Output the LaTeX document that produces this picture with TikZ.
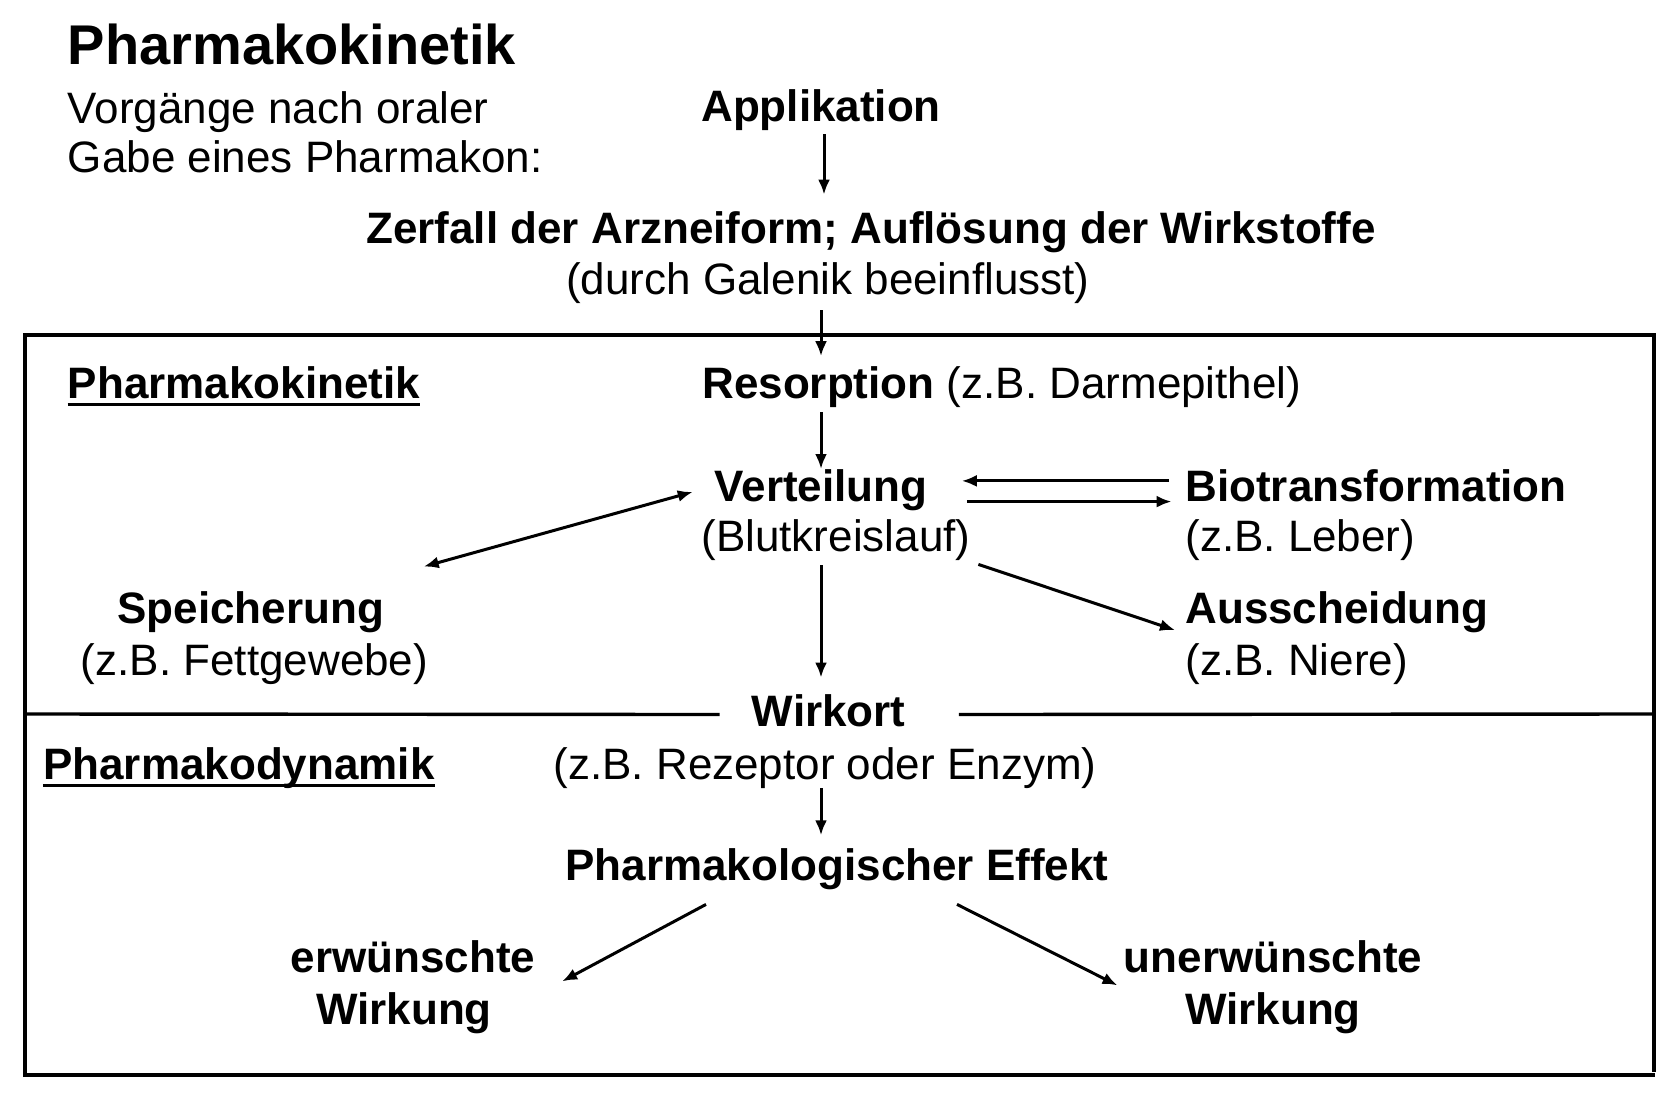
\documentclass[tikz,border=0pt]{standalone}
\usepackage{fontspec}
\setmainfont{Liberation Sans}
\usetikzlibrary{arrows.meta}
\begin{document}
\begin{tikzpicture}[x = 0.5pt, y = -0.5pt,
		txt/.style = {inner sep = 0pt, text height = 16pt, text depth = 4.5pt, font = \fontsize{22pt}{26pt}\selectfont},
		bold/.style = {txt, font = \fontsize{22pt}{26pt}\selectfont\bfseries},
		arr/.style = {line width = 1.5pt, -{Latex[length = 7.5pt, width = 6pt]}},
		arrboth/.style = {line width = 1.5pt, {Latex[length = 7.5pt, width = 6pt]}-{Latex[length = 7.5pt, width = 6pt]}},
		frame/.style = {line width = 1.7pt}]
	\useasboundingbox (0, 0) rectangle (1680, 1092);
	
	% Frame
	\draw[frame] (25, 1077) -- (25, 335) -- (1654, 335) -- (1654, 1072);
	\draw[line width = 2.3pt] (24, 1075) -- (1655, 1075);
	
	% Nodes
	\node[txt, anchor = base west, font = \fontsize{28pt}{32pt}\selectfont\bfseries] (title) at (67.5, 64) {Pharmakokinetik};
	\node[txt, anchor = base west] (intro1) at (67.5, 123) {Vorgänge nach oraler};
	\node[txt, anchor = base west] (intro2) at (67.5, 172.5) {Gabe eines Pharmakon:};
	\node[bold, anchor = base] (appl) at (821, 121) {Applikation};
	\node[bold, anchor = base] (zerf) at (871, 243) {Zerfall der Arzneiform; Auflösung der Wirkstoffe};
	\node[txt, anchor = base] (zerfsub) at (828, 294.6) {(durch Galenik beeinflusst)};
	\node[bold, anchor = base west] (kin) at (67.5, 398) {Pharmakokinetik};
	\node[txt, anchor = base west] (resorp) at (702, 398.6) {\textbf{Resorption} (z.B. Darmepithel)};
	\node[bold, anchor = base] (vert) at (821, 501.4) {Verteilung};
	\node[txt, anchor = base] (vertsub) at (836, 551.8) {(Blutkreislauf)};
	\node[bold, anchor = base west] (bio) at (1185, 501.4) {Biotransformation};
	\node[txt, anchor = base west] (biosub) at (1185, 551.8) {(z.B. Leber)};
	\node[bold, anchor = base] (speich) at (250.7, 623.6) {Speicherung};
	\node[txt, anchor = base] (speichsub) at (254.5, 675) {(z.B. Fettgewebe)};
	\node[bold, anchor = base west] (aus) at (1185, 623.6) {Ausscheidung};
	\node[txt, anchor = base west] (aussub) at (1185, 675) {(z.B. Niere)};
	\node[bold, anchor = base] (wirk) at (828.7, 726) {Wirkort};
	\node[txt, anchor = base] (wirksub) at (825, 779) {(z.B. Rezeptor oder Enzym)};
	\node[bold, anchor = base west] (dyn) at (42.9, 779) {Pharmakodynamik};
	\node[bold, anchor = base] (effekt) at (837, 880.7) {Pharmakologischer Effekt};
	\node[bold, anchor = base] (erw1) at (413, 972) {erwünschte};
	\node[bold, anchor = base] (erw2) at (404, 1024) {Wirkung};
	\node[bold, anchor = base] (unerw1) at (1273, 972) {unerwünschte};
	\node[bold, anchor = base] (unerw2) at (1273, 1024) {Wirkung};
	
	% Underlines and divider
	\draw[line width = 1.8pt] ([yshift = 1.5pt]kin.south west) -- ([yshift = 1.5pt]kin.south east);
	\draw[line width = 1.8pt] ([yshift = 1.5pt]dyn.south west) -- ([yshift = 1.5pt]dyn.south east);
	\draw[frame] (25, 714) -- ([xshift = -16pt]wirk.west);
	\draw[frame] ([xshift = 26.5pt]wirk.east) -- (1654, 714);
	
	% Edges
	\draw[arr, shorten <= 2pt, shorten >= 8pt] ([xshift = 1.5pt]appl.south) -- ([xshift = 1.5pt]appl.south |- zerf.north);
	\draw[arr, shorten <= 3.2pt, shorten >= 5pt] (vert.north |- zerfsub.south) -- (vert.north |- resorp.north);
	\draw[arr, shorten <= 2.2pt] (vert.north |- resorp.south) -- (vert.north);
	\draw[arr, shorten <= 8pt, shorten >= 17pt] ([yshift = 4.5pt]bio.west) -- ([yshift = 4.5pt]bio.west -| vert.east);
	\draw[arr, shorten <= 19.5pt, shorten >= 6.7pt] ([yshift = -5.85pt]bio.west -| vert.east) -- ([yshift = -5.85pt]bio.west);
	\draw[arrboth] ([xshift = 19.7pt, yshift = 12.3pt]speich.north east) -- ([xshift = -10.75pt, yshift = -1pt]vert.west);
	\draw[arr] ([xshift = 3.75pt, yshift = -1.6pt]vertsub.south east) -- ([xshift = -5pt, yshift = -9pt]aus.west);
	\draw[arr, shorten <= 2pt, shorten >= 8pt] (vert.south |- vertsub.south) -- (vert.south |- wirk.north);
	\draw[arr, shorten >= 6.5pt] (vert.south |- wirksub.south) -- (vert.south |- effekt.north);
	\draw[arr] ([xshift = -65.5pt, yshift = -7.15pt]effekt.south) -- ([xshift = 13.25pt]erw1.south east);
	\draw[arr] ([xshift = 60pt, yshift = -7.15pt]effekt.south) -- ([xshift = -3pt, yshift = -2pt]unerw1.south west);
\end{tikzpicture}
\end{document}
